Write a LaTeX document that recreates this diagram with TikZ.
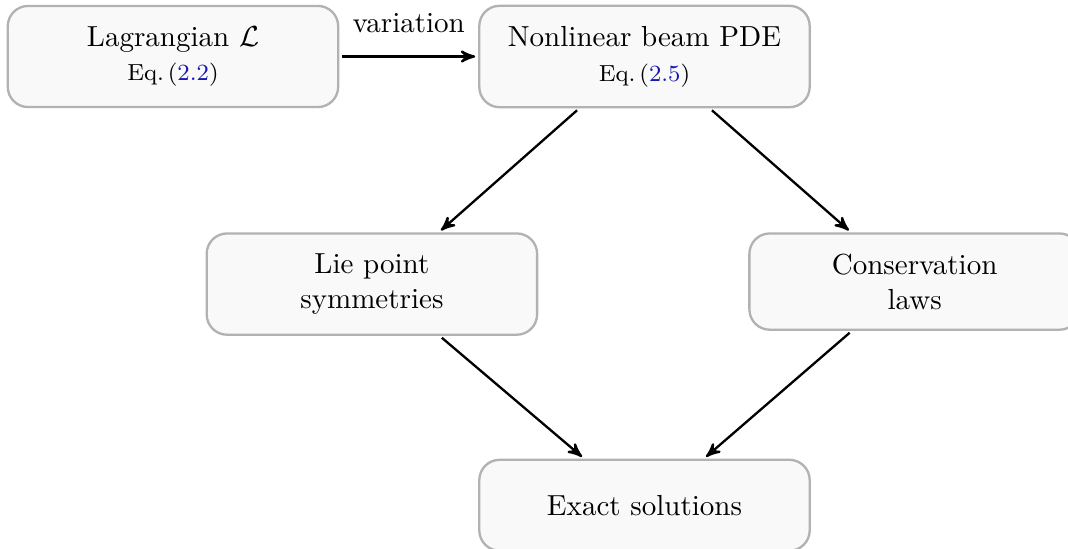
\documentclass[tikz,border=0pt]{standalone}
\usepackage{amsmath}
\usepackage{amssymb}
\usepackage{tikz}
\usetikzlibrary{
        arrows,
        positioning,
        shapes
    }
\definecolor{eqlink}{rgb}{0.1,0.1,0.7}
\tikzset{>=stealth',shorten >=1pt,shorten <=1pt,auto,node distance=1.5cm}
\tikzset{stagebox/.style={draw=gray!60,fill=gray!5,thick,rounded corners=7pt,
        minimum width=4cm,minimum height=1.1cm,inner sep=7pt,align=center}}

\begin{document}
\begin{tikzpicture}[>=stealth',thick]
                    \useasboundingbox (-2.094,0.684) rectangle (10.835,-5.950);

                        \node[stagebox] (lag) {Lagrangian $\mathcal{L}$\\
                            {\footnotesize Eq.\,(\textcolor{eqlink}{2.2})}};
                        \node[stagebox] (pde) [right=1.68cm of lag] {Nonlinear beam PDE\\
                            {\footnotesize Eq.\,(\textcolor{eqlink}{2.5})}};
                        \node[stagebox] (lie) [below=1.5cm of pde,xshift=-3.3cm] {Lie point\\symmetries};
                        \node[stagebox] (cons) [below=1.5cm of pde,xshift=3.27cm] {Conservation\\laws};
                        \node[stagebox] (exact) [below=4.24cm of pde] {Exact solutions};
                    \path[->]
                            (lag)  edge  node[above=1.5mm] {variation} (pde)
                            ([xshift=-0.79cm]pde.south)  edge  ([xshift=0.81cm]lie.north)
                            ([xshift=0.79cm]pde.south)  edge  ([xshift=-0.77cm]cons.north)
                            ([xshift=0.82cm]lie.south)  edge  ([xshift=-0.73cm]exact.north)
                            ([xshift=-0.76cm]cons.south)  edge  ([xshift=0.72cm]exact.north)
                            ;
                    \end{tikzpicture}
\end{document}
